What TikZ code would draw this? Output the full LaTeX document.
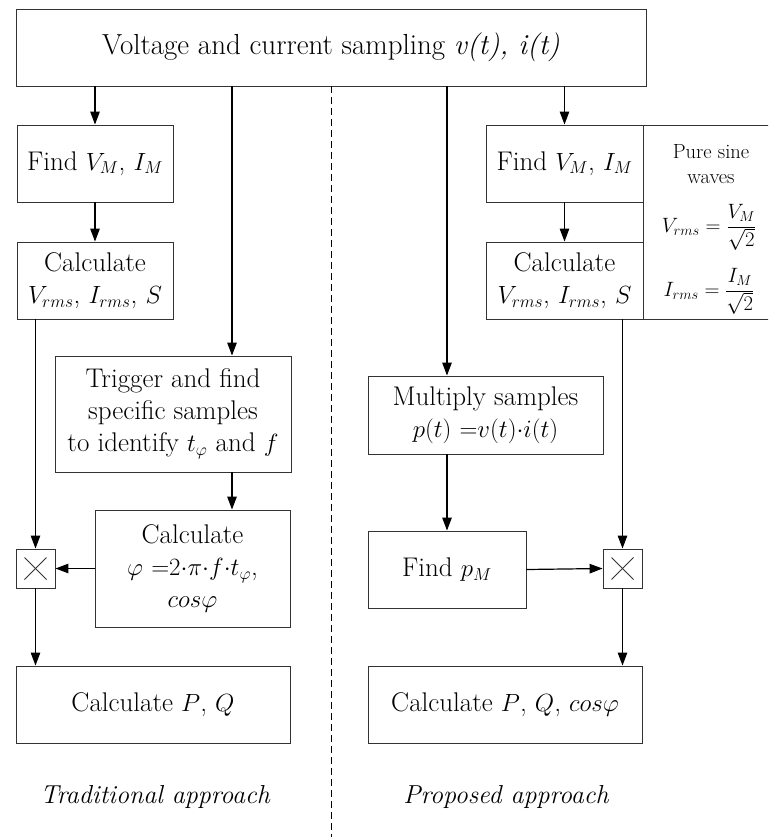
\documentclass[tikz,border=0pt]{standalone}
\usetikzlibrary{arrows.meta}
\begin{document}
\begin{tikzpicture}[x=1pt,y=-1pt,
  box/.style={draw=black!80, line width=0.9pt, align=center, inner sep=2pt, font=\fontsize{27}{32}\selectfont},
  conn/.style={line width=1.2pt, -{Triangle[length=13pt,width=9.5pt]}},
  mult/.style={draw=black!80, line width=0.9pt, minimum width=39pt, minimum height=39pt, inner sep=0pt,
    path picture={
      \draw[line width=0.9pt] ([shift={(-11pt,-11pt)}]path picture bounding box.center) -- ([shift={(11pt,11pt)}]path picture bounding box.center);
      \draw[line width=0.9pt] ([shift={(-11pt,11pt)}]path picture bounding box.center) -- ([shift={(11pt,-11pt)}]path picture bounding box.center);}},
  small/.style={align=center, inner sep=0pt, font=\fontsize{20.5}{25}\selectfont},
  formula/.style={inner sep=0pt, font=\fontsize{21}{25}\selectfont},
  lbl/.style={inner sep=0pt, font=\fontsize{26}{30}\selectfont\itshape}]
\clip (0,0) rectangle (768,837);
\fill[white] (0,0) rectangle (768,837);

% top box
\node[box, minimum width=630, minimum height=77, font=\fontsize{29}{34}\selectfont] (top) at (331,47.5)
  {Voltage and current sampling \textit{v(t), i(t)}};

% left column
\node[box, minimum width=156, minimum height=77] (fl) at (95,163.5) {Find $V_M$, $I_M$};
\node[box, minimum width=156, minimum height=77] (cl) at (95,280.5) {Calculate\\$V_{rms}$, $I_{rms}$, $S$};
\node[box, minimum width=236, minimum height=116] (tr) at (173,414) {Trigger and find\\specific samples\\to identify $t_{\varphi}$ and $f$};
\node[box, minimum width=195, minimum height=117] (cphi) at (192.5,568.5) {Calculate\\$\varphi\ {=}2{\cdot}\pi{\cdot}f{\cdot}t_{\varphi}$,\\$cos\varphi$};
\node[mult] (xl) at (35.5,568.5) {};
\node[box, minimum width=274, minimum height=77] (pq1) at (153,704.5) {Calculate $P$, $Q$};

% right column
\node[box, minimum width=157, minimum height=77] (fr) at (564.5,163.5) {Find $V_M$, $I_M$};
\node[box, minimum width=157, minimum height=77] (cr) at (564.5,280.5) {Calculate\\$V_{rms}$, $I_{rms}$, $S$};
\node[draw=black!80, line width=0.9pt, minimum width=140, minimum height=194, inner sep=0pt, anchor=north west] (pan) at (643,125) {};
\node[small] (ps) at (711,164) {Pure sine\\waves};
\node[formula] (f1) at (709,227) {$\displaystyle V_{rms}=\frac{V_M}{\sqrt{2}}$};
\node[formula] (f2) at (709,291) {$\displaystyle I_{rms}=\frac{I_M}{\sqrt{2}}$};
\node[box, minimum width=235, minimum height=78] (mu) at (485.5,415) {Multiply samples\\$p(t)\ {=}v(t){\cdot}i(t)$};
\node[box, minimum width=158, minimum height=77] (pm) at (447,569.5) {Find $p_M$};
\node[mult] (xr) at (622.5,568.5) {};
\node[box, minimum width=274, minimum height=77] (pq2) at (505,704.5) {Calculate $P$, $Q$, $cos\varphi$};

% labels
\node[lbl] (lt) at (155,797) {Traditional approach};
\node[lbl] (lp) at (506,797) {Proposed approach};

% helper coordinates
\coordinate (ct) at (232,0);
\coordinate (bt) at (331,837);

% connectors
\draw[conn] (top.south -| fl.north) -- (fl.north);
\draw[conn] (fl.south) -- (cl.north);
\draw[conn] (cl.south -| xl.north) -- (xl.north);
\draw[conn] (xl.south) -- (xl.south |- pq1.north);
\draw[conn] (top.south -| ct) -- (ct |- tr.north);
\draw[conn] (tr.south -| ct) -- (ct |- cphi.north);
\draw[conn] (cphi.west) -- (xl.east);
\draw[conn] (top.south -| fr.north) -- (fr.north);
\draw[conn] (fr.south) -- (cr.north);
\draw[conn] (top.south -| pm.north) -- (pm.north |- mu.north);
\draw[conn] (mu.south -| pm.north) -- (pm.north);
\draw[conn] (pm.east) -- (xr.west);
\draw[conn] (cr.south -| xr.north) -- (xr.north);
\draw[conn] (xr.south) -- (xr.south |- pq2.north);
\draw[line width=0.8pt, dash pattern=on 7pt off 4pt] (top.south) -- (bt);
\end{tikzpicture}
\end{document}
